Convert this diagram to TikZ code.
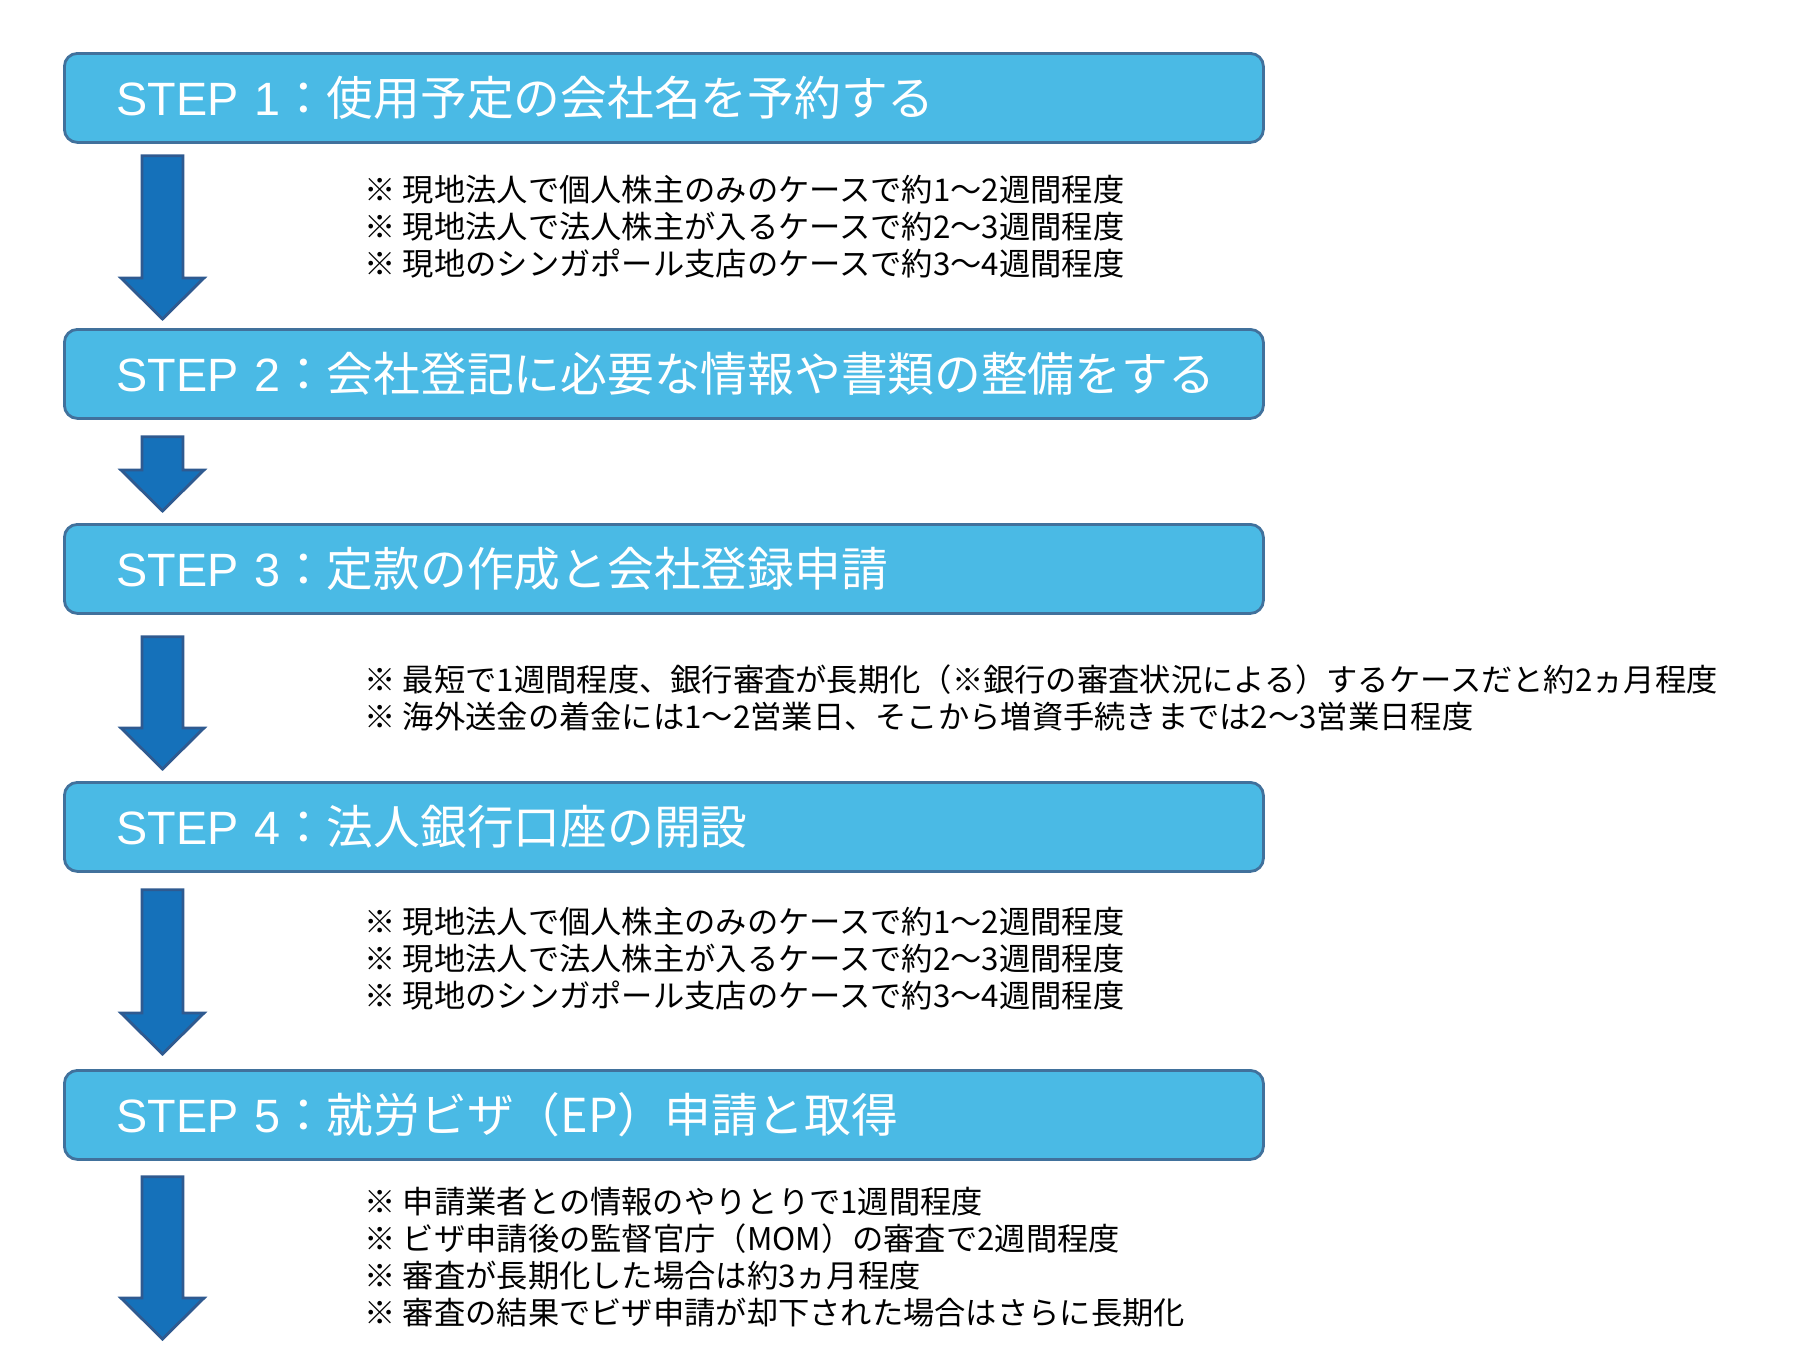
\documentclass[tikz,border=0pt]{standalone}
\usepackage{fontspec}
\setmainfont{Noto Sans CJK JP}
\newfontfamily\latinfont{Liberation Sans}
\usetikzlibrary{calc}

\definecolor{boxfill}{HTML}{4ABAE5}
\definecolor{boxline}{HTML}{41719C}
\definecolor{arrowfill}{HTML}{1571BA}
\definecolor{arrowline}{HTML}{2F5A90}

\tikzset{
  stepbox/.style={draw=boxline, line width=0.8pt, fill=boxfill, rounded corners=0.13cm,
    anchor=north west, minimum width=11.99cm, minimum height=0.89cm, text width=10.95cm,
    inner xsep=0.52cm, inner ysep=0pt, align=left, text=white,
    font=\fontsize{13.3}{16}\selectfont},
  notetext/.style={anchor=base west, inner sep=0pt, align=left,
    font=\fontsize{8.9}{10.5}\selectfont},
  blockarrow/.style={draw=arrowline, fill=arrowfill, line width=0.8pt, line join=miter}
}

\begin{document}
\begin{tikzpicture}[x=1cm,y=1cm]
\useasboundingbox (0,0) rectangle (18.04,-13.62);

% step boxes
\node[stepbox] (step1) at (0.63,-0.52) {{\latinfont STEP 1}：使用予定の会社名を予約する};
\node[stepbox] (step2) at (0.63,-3.28) {{\latinfont STEP 2}：会社登記に必要な情報や書類の整備をする};
\node[stepbox] (step3) at (0.63,-5.23) {{\latinfont STEP 3}：定款の作成と会社登録申請};
\node[stepbox] (step4) at (0.63,-7.81) {{\latinfont STEP 4}：法人銀行口座の開設};
\node[stepbox] (step5) at (0.63,-10.69) {{\latinfont STEP 5}：就労ビザ（EP）申請と取得};
\coordinate (flowend) at (0.63,-13.39);

% notes (anchored at the baseline of their last line)
\node[notetext] (note1) at (3.64,-2.75) {※ 現地法人で個人株主のみのケースで約1～2週間程度\\
  ※ 現地法人で法人株主が入るケースで約2～3週間程度\\
  ※ 現地のシンガポール支店のケースで約3～4週間程度};
\node[notetext] (note3) at (3.64,-7.285) {※ 最短で1週間程度、銀行審査が長期化（※銀行の審査状況による）するケースだと約2ヵ月程度\\
  ※ 海外送金の着金には1～2営業日、そこから増資手続きまでは2～3営業日程度};
\node[notetext] (note4) at (3.64,-10.075) {※ 現地法人で個人株主のみのケースで約1～2週間程度\\
  ※ 現地法人で法人株主が入るケースで約2～3週間程度\\
  ※ 現地のシンガポール支店のケースで約3～4週間程度};
\node[notetext] (note5) at (3.64,-13.245) {※ 申請業者との情報のやりとりで1週間程度\\
  ※ ビザ申請後の監督官庁（MOM）の審査で2週間程度\\
  ※ 審査が長期化した場合は約3ヵ月程度\\
  ※ 審査の結果でビザ申請が却下された場合はさらに長期化};

% block arrows between the steps
\foreach \a/\b/\t/\s in {step1/step2/0.12/0.09, step2/step3/0.17/0.12,
    step3/step4/0.22/0.12, step4/step5/0.17/0.15, step5/flowend/0.16/0}
  \draw[blockarrow] let \p1=($(\a.south west)+(0,-\t)$), \p2=($(\b.north west)+(0,\s)$) in
    (\x1+0.79cm,\y1) -- (\x1+1.20cm,\y1) -- (\x1+1.20cm,\y2+0.41cm) -- (\x1+1.41cm,\y2+0.41cm)
    -- (\x1+0.995cm,\y2) -- (\x1+0.58cm,\y2+0.41cm) -- (\x1+0.79cm,\y2+0.41cm) -- cycle;
\end{tikzpicture}
\end{document}
